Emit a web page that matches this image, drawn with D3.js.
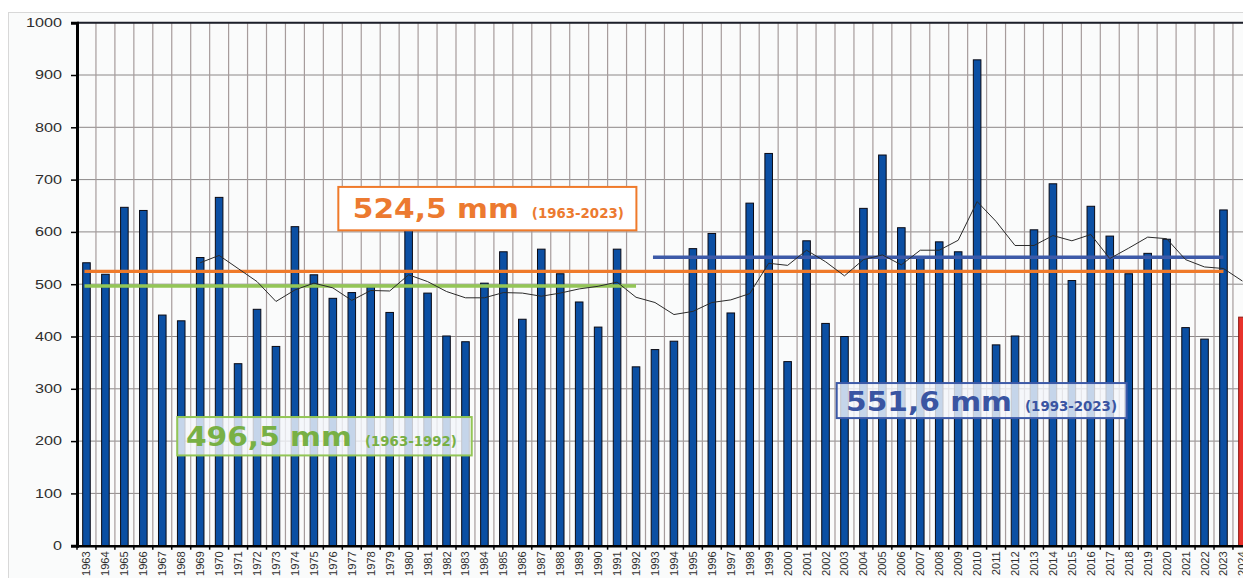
<!DOCTYPE html>
<html>
<head>
<meta charset="UTF-8">
<title>Niederschlag 1963-2024</title>
<style>
  body { margin: 0; background: #fff; }
  svg { display: block; }
</style>
</head>
<body>
<div id="chart"></div>
<script src="https://d3js.org/d3.v7.min.js"></script>
<script>
// yearly precipitation (mm)
var years = ["1963","1964","1965","1966","1967","1968","1969","1970","1971","1972",
             "1973","1974","1975","1976","1977","1978","1979","1980","1981","1982",
             "1983","1984","1985","1986","1987","1988","1989","1990","1991","1992",
             "1993","1994","1995","1996","1997","1998","1999","2000","2001","2002",
             "2003","2004","2005","2006","2007","2008","2009","2010","2011","2012",
             "2013","2014","2015","2016","2017","2018","2019","2020","2021","2022",
             "2023","2024"];
var rain = [541,519,647,641,441,430,551,666,348,452,
            381,610,518,473,484,495,446,604,483,401,
            390,502,562,433,567,520,466,418,567,342,
            375,391,568,597,445,655,750,352,583,425,
            400,645,747,608,553,581,562,929,384,401,
            604,692,507,649,592,520,559,586,417,395,
            642,437];
// running mean line, drawn from 1969 on
var runMean = [null,null,null,null,null,null,541,555,530,505,
               467,489,502,493,469,488,487,518,505,486,
               474,474,484,483,477,483,491,496,504,475,
               465,442,448,465,470,482,540,536,565,543,
               516,547,556,537,565,565,584,658,620,574,
               574,593,583,595,549,569,590,587,547,533,
               530,506];
var currentYear = "2024";

// period means
var meanValues = [524.5, 496.5, 551.6];
var meanLabels = ["524,5 mm", "496,5 mm", "551,6 mm"];
var meanPeriods = ["(1963-2023)", "(1963-1992)", "(1993-2023)"];
var meanFrom = ["1963", "1963", "1993"];
var meanTo = ["2023", "1992", "2023"];
var meanColors = ["#ef7a2a", "#93c656", "#3d5aa8"];
var meanText = ["#ec7a30", "#78b045", "#3a55a2"];

var yTicks = [0,100,200,300,400,500,600,700,800,900,1000];

var width = 1243, height = 578;
var plotLeft = 77, plotTop = 22.7, plotBottom = 545.7;

var svg = d3.select("#chart").append("svg")
    .attr("width", width)
    .attr("height", height);

// outer frame
svg.append("rect")
    .attr("x", 8.5).attr("y", 12.5)
    .attr("width", width + 20).attr("height", height)
    .attr("fill", "#fafbfb")
    .attr("stroke", "#d8d8d8");

var x = d3.scaleBand()
    .domain(years)
    .range([plotLeft, plotLeft + years.length * 18.95])
    .paddingInner(0.6)
    .paddingOuter(0.3);
var step = x.step();
var xIdx = d3.scaleLinear().domain([0, years.length]).range([plotLeft, plotLeft + years.length * step]);

var y = d3.scaleLinear()
    .domain([0, 1000])
    .range([plotBottom, plotTop]);

function cx(yr) { return x(yr) + x.bandwidth() / 2; }

// horizontal grid
svg.append("g")
    .selectAll("line")
    .data(yTicks)
    .enter()
    .append("line")
    .attr("x1", plotLeft).attr("x2", width)
    .attr("y1", function(d){ return y(d); })
    .attr("y2", function(d){ return y(d); })
    .attr("stroke", "#8c8888")
    .attr("stroke-width", 1);

// vertical grid at category borders
svg.append("g")
    .selectAll("line")
    .data(years)
    .enter()
    .append("line")
    .attr("x1", function(d,i){ return xIdx(i + 1); })
    .attr("x2", function(d,i){ return xIdx(i + 1); })
    .attr("y1", plotTop).attr("y2", plotBottom)
    .attr("stroke", "#a69c9c")
    .attr("stroke-width", 1.2);

// top frame line
svg.append("line")
    .attr("x1", plotLeft).attr("x2", width)
    .attr("y1", plotTop).attr("y2", plotTop)
    .attr("stroke", "#1c1f2a")
    .attr("stroke-width", 2);

// bars
svg.append("g")
    .selectAll("rect")
    .data(rain)
    .enter()
    .append("rect")
    .attr("x", function(d,i){ return x(years[i]); })
    .attr("y", function(d){ return y(d); })
    .attr("width", x.bandwidth())
    .attr("height", function(d){ return plotBottom - y(d); })
    .attr("fill", function(d,i){ return years[i] == currentYear ? "#e8322b" : "#0b4fa3"; })
    .attr("stroke", function(d,i){ return years[i] == currentYear ? "#8a1a14" : "#0a0a14"; })
    .attr("stroke-width", 1);

// period mean lines
meanValues.forEach(function(v, k){
    svg.append("line")
        .attr("x1", cx(meanFrom[k]) - 2)
        .attr("x2", cx(meanTo[k]))
        .attr("y1", y(v)).attr("y2", y(v))
        .attr("stroke", meanColors[k])
        .attr("stroke-width", 3.4);
});

// running mean
var line = d3.line()
    .defined(function(d){ return d != null; })
    .x(function(d,i){ return cx(years[i]); })
    .y(function(d){ return y(d); });
svg.append("path")
    .datum(runMean)
    .attr("d", line)
    .attr("fill", "none")
    .attr("stroke", "#2a2a2a")
    .attr("stroke-width", 1);

// axes
var yAxis = d3.axisLeft(y).tickValues(yTicks).tickFormat(d3.format("d")).tickSize(6).tickPadding(9);
var gy = svg.append("g")
    .attr("transform", "translate(" + plotLeft + ",0)")
    .call(yAxis);
gy.select(".domain").attr("stroke", "#000").attr("stroke-width", 3);
gy.selectAll(".tick line").attr("stroke", "#000").attr("stroke-width", 1.5);
gy.selectAll("text")
    .attr("font-family", "'Liberation Sans', Arial, sans-serif")
    .attr("font-size", 12)
    .attr("fill", "#2e2e2e")
    .attr("textLength", function(d){ return String(d).length * 9; })
    .attr("lengthAdjust", "spacingAndGlyphs");

var xAxis = d3.axisBottom(x).tickSize(0).tickFormat("");
var gx = svg.append("g")
    .attr("transform", "translate(0," + plotBottom + ")")
    .call(xAxis);
gx.select(".domain").attr("stroke", "#000").attr("stroke-width", 2.5);

// ticks on category borders
gx.selectAll(".bt")
    .data(d3.range(0, years.length + 1))
    .enter()
    .append("line")
    .attr("x1", function(d){ return xIdx(d); })
    .attr("x2", function(d){ return xIdx(d); })
    .attr("y1", 0).attr("y2", 4)
    .attr("stroke", "#000")
    .attr("stroke-width", 1.5);

svg.append("g")
    .selectAll("text")
    .data(years)
    .enter()
    .append("text")
    .attr("transform", function(d){ return "translate(" + (cx(d) + 4) + "," + (plotBottom + 5.5) + ") rotate(-90)"; })
    .attr("text-anchor", "end")
    .attr("font-family", "'Liberation Sans', Arial, sans-serif")
    .attr("font-size", 11.2)
    .attr("fill", "#2e2e2e")
    .text(function(d){ return d; });

// mean annotation boxes (position in category index / value units)
var boxes = [
    {i0: 13.79, i1: 29.52, v0: 686, v1: 603, pad: 14.5, base: 31, opacity: 1},
    {i0: 5.29,  i1: 20.83, v0: 246, v1: 172.6, pad: 8.7, base: 28.7, opacity: 0.8},
    {i0: 40.09, i1: 55.39, v0: 311, v1: 244, pad: 9.3, base: 27.7, opacity: 0.8}
];

boxes.forEach(function(b, k){
    var bx = xIdx(b.i0), bw = xIdx(b.i1) - xIdx(b.i0);
    var by = y(b.v0), bh = y(b.v1) - y(b.v0);
    var g = svg.append("g");
    g.append("rect")
        .attr("x", bx).attr("y", by)
        .attr("width", bw).attr("height", bh)
        .attr("fill", k == 0 ? "#ffffff" : "#f4f6fb")
        .attr("fill-opacity", b.opacity)
        .attr("stroke", meanColors[k])
        .attr("stroke-width", 2);
    g.append("text")
        .attr("x", bx + b.pad)
        .attr("y", by + b.base)
        .attr("font-family", "'DejaVu Sans', Verdana, sans-serif")
        .attr("font-weight", "bold")
        .attr("font-size", 27)
        .attr("fill", meanText[k])
        .attr("textLength", 166)
        .attr("lengthAdjust", "spacingAndGlyphs")
        .text(meanLabels[k]);
    g.append("text")
        .attr("x", bx + b.pad + 166 + 13)
        .attr("y", by + b.base + 0.5)
        .attr("font-family", "'DejaVu Sans', Verdana, sans-serif")
        .attr("font-weight", "bold")
        .attr("font-size", 13.2)
        .attr("fill", meanText[k])
        .attr("textLength", 92)
        .attr("lengthAdjust", "spacingAndGlyphs")
        .text(meanPeriods[k]);
});
</script>
</body>
</html>
